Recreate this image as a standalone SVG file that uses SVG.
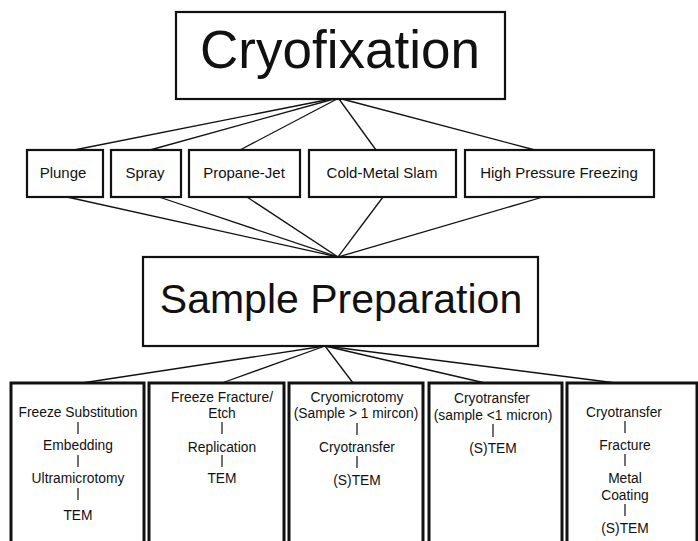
<svg xmlns="http://www.w3.org/2000/svg" width="698" height="541" viewBox="0 0 698 541">
<style>
text{font-family:"Liberation Sans",Arial,Helvetica,sans-serif;fill:#111;text-anchor:middle}
.box{fill:#fff;stroke:#111;stroke-width:2.2}
.bbox{fill:#fff;stroke:#111;stroke-width:3}
.sm{font-size:15px}
.t{font-size:13.8px}
.con line{stroke:#111;stroke-width:1.3}
.bar{stroke:#111;stroke-width:1.2}
</style>
<rect width="698" height="541" fill="#fff"/>
<g id="connectors" class="con">
<line x1="331" y1="99" x2="74" y2="150"/>
<line x1="334" y1="99" x2="150" y2="150"/>
<line x1="337" y1="99" x2="240" y2="150"/>
<line x1="339" y1="99" x2="376" y2="150"/>
<line x1="342" y1="99" x2="535" y2="150"/>
<line x1="67" y1="197" x2="338" y2="257"/>
<line x1="159" y1="197" x2="338" y2="257"/>
<line x1="247" y1="197" x2="338" y2="257"/>
<line x1="383" y1="197" x2="338" y2="257"/>
<line x1="543" y1="197" x2="338" y2="257"/>
<line x1="325" y1="346" x2="82" y2="383"/>
<line x1="325" y1="346" x2="222" y2="383"/>
<line x1="325" y1="346" x2="353" y2="383"/>
<line x1="325" y1="346" x2="485" y2="383"/>
<line x1="325" y1="346" x2="616" y2="383"/>
</g>
<g id="cryofixation">
<rect class="box" x="176" y="12" width="329" height="87"/>
<text x="340" y="68" style="font-size:53px">Cryofixation</text>
</g>
<g id="plunge">
<rect class="box" x="27" y="150" width="76" height="47"/>
<text class="sm" x="63" y="178">Plunge</text>
</g>
<g id="spray">
<rect class="box" x="111" y="150" width="70" height="47"/>
<text class="sm" x="145" y="178">Spray</text>
</g>
<g id="propane-jet">
<rect class="box" x="189" y="150" width="111" height="47"/>
<text class="sm" x="244" y="178">Propane-Jet</text>
</g>
<g id="cold-metal-slam">
<rect class="box" x="309" y="150" width="147" height="47"/>
<text class="sm" x="382" y="178">Cold-Metal Slam</text>
</g>
<g id="high-pressure-freezing">
<rect class="box" x="465" y="150" width="189" height="47"/>
<text class="sm" x="559" y="178">High Pressure Freezing</text>
</g>
<g id="sample-preparation">
<rect class="box" x="143" y="257" width="395" height="89"/>
<text x="341" y="313" style="font-size:41px">Sample Preparation</text>
</g>
<g id="freeze-substitution">
<rect class="bbox" x="11" y="383" width="133" height="170"/>
<text class="t" x="78" y="417">Freeze Substitution</text>
<line class="bar" x1="78" y1="422" x2="78" y2="434"/>
<text class="t" x="78" y="450">Embedding</text>
<line class="bar" x1="78" y1="455" x2="78" y2="467"/>
<text class="t" x="78" y="483">Ultramicrotomy</text>
<line class="bar" x1="78" y1="488" x2="78" y2="500"/>
<text class="t" x="78" y="520">TEM</text>
</g>
<g id="freeze-fracture">
<rect class="bbox" x="149" y="383" width="135" height="170"/>
<text class="t" x="222" y="402">Freeze Fracture/</text>
<text class="t" x="222" y="418">Etch</text>
<line class="bar" x1="222" y1="422" x2="222" y2="434"/>
<text class="t" x="222" y="452">Replication</text>
<line class="bar" x1="222" y1="455" x2="222" y2="467"/>
<text class="t" x="222" y="483">TEM</text>
</g>
<g id="cryomicrotomy">
<rect class="bbox" x="289" y="383" width="134" height="170"/>
<text class="t" x="357" y="402">Cryomicrotomy</text>
<text class="t" x="356" y="418">(Sample &gt; 1 mircon)</text>
<line class="bar" x1="357" y1="423" x2="357" y2="435"/>
<text class="t" x="357" y="452">Cryotransfer</text>
<line class="bar" x1="357" y1="456" x2="357" y2="468"/>
<text class="t" x="357" y="485">(S)TEM</text>
</g>
<g id="cryotransfer-small">
<rect class="bbox" x="429" y="383" width="133" height="170"/>
<text class="t" x="492" y="403">Cryotransfer</text>
<text class="t" x="493" y="420">(sample &lt;1 micron)</text>
<line class="bar" x1="493" y1="424" x2="493" y2="437"/>
<text class="t" x="493" y="453">(S)TEM</text>
</g>
<g id="cryotransfer-fracture">
<rect class="bbox" x="567" y="383" width="130" height="170"/>
<text class="t" x="624" y="417">Cryotransfer</text>
<line class="bar" x1="625" y1="421" x2="625" y2="433"/>
<text class="t" x="625" y="450">Fracture</text>
<line class="bar" x1="625" y1="454" x2="625" y2="466"/>
<text class="t" x="625" y="483">Metal</text>
<text class="t" x="625" y="500">Coating</text>
<line class="bar" x1="625" y1="504" x2="625" y2="516"/>
<text class="t" x="625" y="533">(S)TEM</text>
</g>
</svg>
